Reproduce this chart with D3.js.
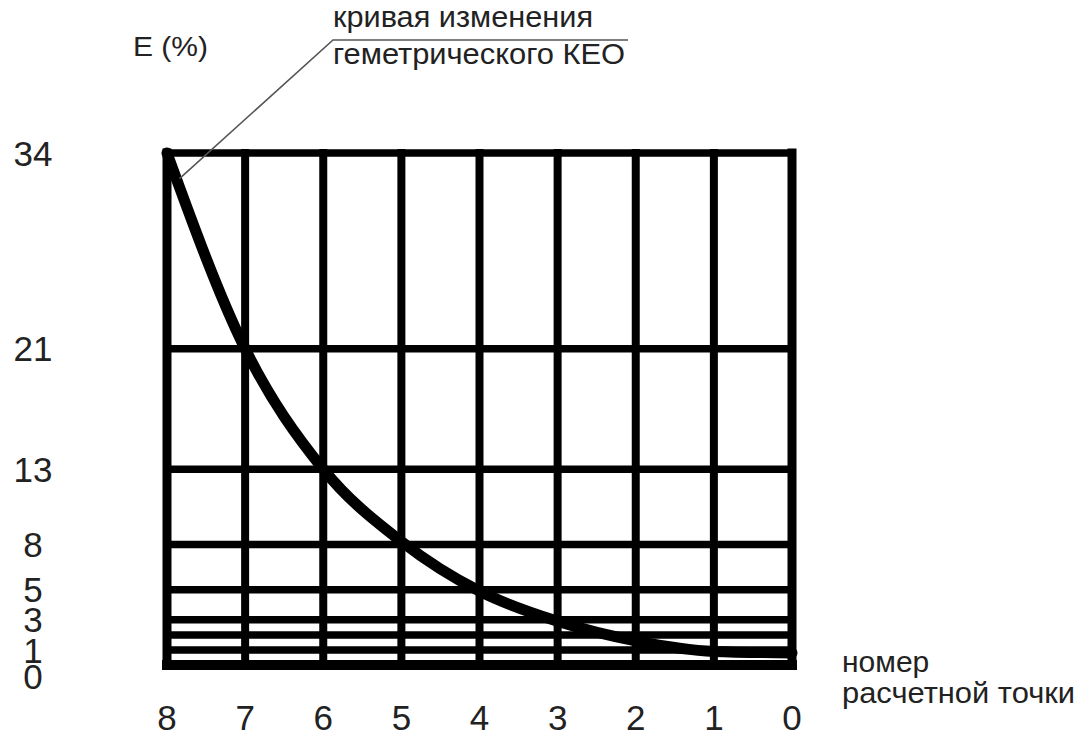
<!doctype html>
<html lang="ru">
  <head>
    <meta charset="utf-8">
    <title>КЕО</title>
    <style>
      body { margin: 0; background: #fff; }
      text { font-family: "Liberation Sans", Arial, sans-serif; fill: #222; }
    </style>
  </head>
  <body>
    <script src="https://cdn.jsdelivr.net/npm/d3@7"></script>
    <script>

      // номер расчетной точки (слева направо на графике)
      var points     = [8, 7, 6, 5, 4, 3, 2, 1, 0];
      // значения КЕО, E (%), в каждой точке
      var keoValues  = [34, 21, 13, 8.2, 4.9, 2.9, 1.6, 0.9, 0.8];
      // горизонтальные линии сетки и подписи к ним
      var gridValues = [34, 21, 13, 8, 5, 3, 2, 1, 0];
      var yTickLabels = [34, 21, 13, 8, 5, 3, 1, 0];

      var width = 1086, height = 738;

      var svg = d3.select("body")
        .append("svg")
        .attr("width", width)
        .attr("height", height);

      var x = d3.scaleLinear()
        .domain([8, 0])
        .range([167, 792]);

      var y = d3.scaleLinear()
        .domain([0, 34])
        .range([665, 153]);

      // сетка
      svg.selectAll(".hline")
        .data(gridValues)
        .enter()
        .append("line")
        .attr("x1", x(8))
        .attr("x2", x(0))
        .attr("y1", function(d){ return y(d); })
        .attr("y2", function(d){ return y(d); })
        .attr("stroke", "#000")
        .attr("stroke-linecap", "square")
        .attr("stroke-width", function(d){ return d === 0 ? 10 : 7.5; });

      svg.selectAll(".vline")
        .data(points)
        .enter()
        .append("line")
        .attr("x1", function(d){ return x(d); })
        .attr("x2", function(d){ return x(d); })
        .attr("y1", y(34))
        .attr("y2", y(0))
        .attr("stroke", "#000")
        .attr("stroke-linecap", "square")
        .attr("stroke-width", function(d){ return (d === 8 || d === 0) ? 9 : 8; });

      // кривая КЕО
      var data = points.map(function(p, i){ return {p: p, v: keoValues[i]}; });

      var line = d3.line()
        .x(function(d){ return x(d.p); })
        .y(function(d){ return y(d.v); })
        .curve(d3.curveMonotoneX);

      svg.append("path")
        .datum(data)
        .attr("d", line)
        .attr("fill", "none")
        .attr("stroke", "#000")
        .attr("stroke-width", 11)
        .attr("stroke-linecap", "round");

      // подписи оси Y (нижние раздвигаются, если налезают)
      var prev = -1e9;
      var yPos = yTickLabels.map(function(v){
        var p = Math.max(y(v), prev + 26);
        prev = p;
        return p;
      });

      svg.selectAll(".ylab")
        .data(yTickLabels)
        .enter()
        .append("text")
        .attr("x", 33)
        .attr("y", function(d, i){ return yPos[i]; })
        .attr("dy", "0.36em")
        .attr("text-anchor", "middle")
        .style("font-size", "35px")
        .text(function(d){ return d; });

      // подписи оси X
      svg.selectAll(".xlab")
        .data(points)
        .enter()
        .append("text")
        .attr("x", function(d){ return x(d); })
        .attr("y", 730)
        .attr("text-anchor", "middle")
        .style("font-size", "35px")
        .text(function(d){ return d; });

      // названия осей
      svg.append("text")
        .attr("x", 133)
        .attr("y", 56)
        .style("font-size", "28px")
        .attr("textLength", 75)
        .attr("lengthAdjust", "spacingAndGlyphs")
        .text("E (%)");

      svg.append("text")
        .attr("x", 842)
        .attr("y", 672)
        .style("font-size", "30px")
        .text("номер");

      svg.append("text")
        .attr("x", 842)
        .attr("y", 703)
        .style("font-size", "30px")
        .attr("textLength", 233)
        .attr("lengthAdjust", "spacingAndGlyphs")
        .text("расчетной точки");

      // выноска к кривой
      var lx = x(7.84), ly = y(32.3);
      svg.append("polyline")
        .attr("points", lx + "," + ly + " 333,40 628,40")
        .attr("fill", "none")
        .attr("stroke", "#555")
        .attr("stroke-width", 1.6);

      svg.append("text")
        .attr("x", 333)
        .attr("y", 27)
        .style("font-size", "30px")
        .attr("textLength", 260)
        .attr("lengthAdjust", "spacingAndGlyphs")
        .text("кривая изменения");

      svg.append("text")
        .attr("x", 333)
        .attr("y", 64)
        .style("font-size", "30px")
        .attr("textLength", 292)
        .attr("lengthAdjust", "spacingAndGlyphs")
        .text("геметрического КЕО");

    </script>
  </body>
</html>
